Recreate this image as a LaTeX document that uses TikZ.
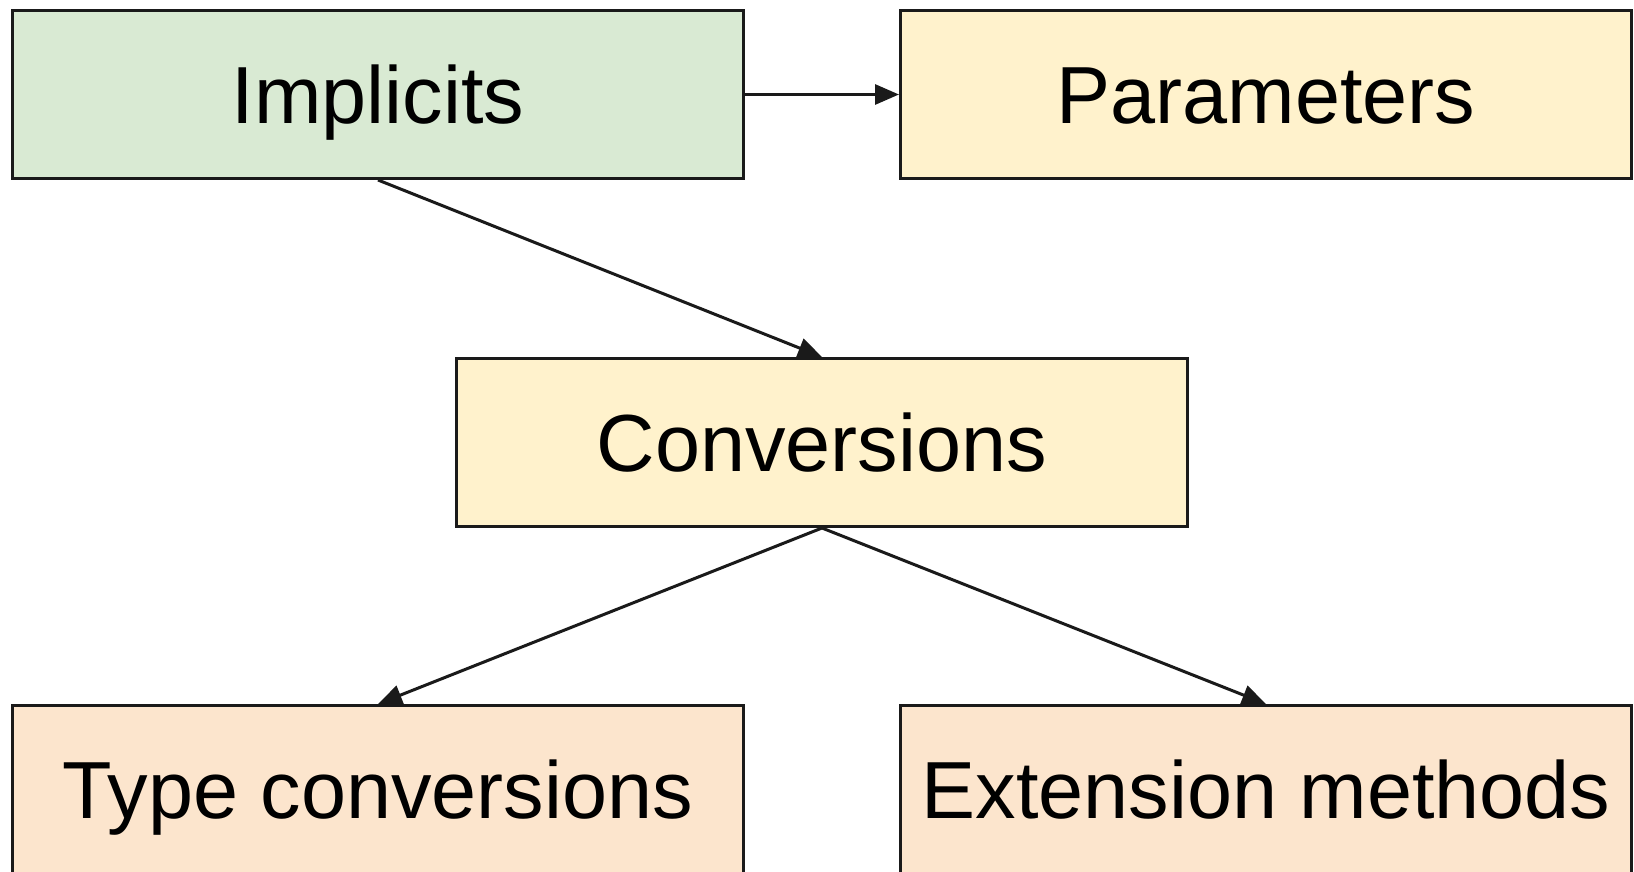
\documentclass[tikz,border=0pt]{standalone}
\usepackage{fontspec}
\setmainfont{Liberation Sans}
\usetikzlibrary{arrows.meta, positioning, calc}
\definecolor{implgreen}{HTML}{D9EAD3}
\definecolor{convyellow}{HTML}{FFF2CC}
\definecolor{leaforange}{HTML}{FCE5CD}
\definecolor{edgeblack}{HTML}{1A1A1A}

\begin{document}
\begin{tikzpicture}[
  x=1pt, y=1pt,
  node distance=154pt,
  box/.style={draw=edgeblack, line width=3pt,
              minimum width=731pt, minimum height=168pt,
              text height=65pt, text depth=6.5pt,
              font=\fontsize{81}{97}\selectfont, align=center},
  arr/.style={-{Triangle[length=24pt, width=20pt]}, line width=3pt, color=edgeblack}
]
  \useasboundingbox (0,0) rectangle (1634,-872);
  \clip (0,0) rectangle (1634,-872);

  \node[box, fill=implgreen] (implicits) at (378,-94.5) {Implicits};
  \node[box, fill=convyellow, right=of implicits] (parameters) {Parameters};
  \coordinate (mid) at ($(implicits.south)!0.5!(parameters.south)$);
  \node[box, fill=convyellow, below=177pt of mid] (conversions) {Conversions};
  \node[box, fill=leaforange, below=524pt of implicits] (typeconv) {Type conversions};
  \node[box, fill=leaforange, below=524pt of parameters] (extension) {Extension methods};

  \draw[arr] (implicits) -- (parameters);
  \draw[arr] (implicits.south) -- (conversions.north);
  \draw[arr] (conversions.south) -- (typeconv.north);
  \draw[arr] (conversions.south) -- (extension.north);
\end{tikzpicture}
\end{document}
